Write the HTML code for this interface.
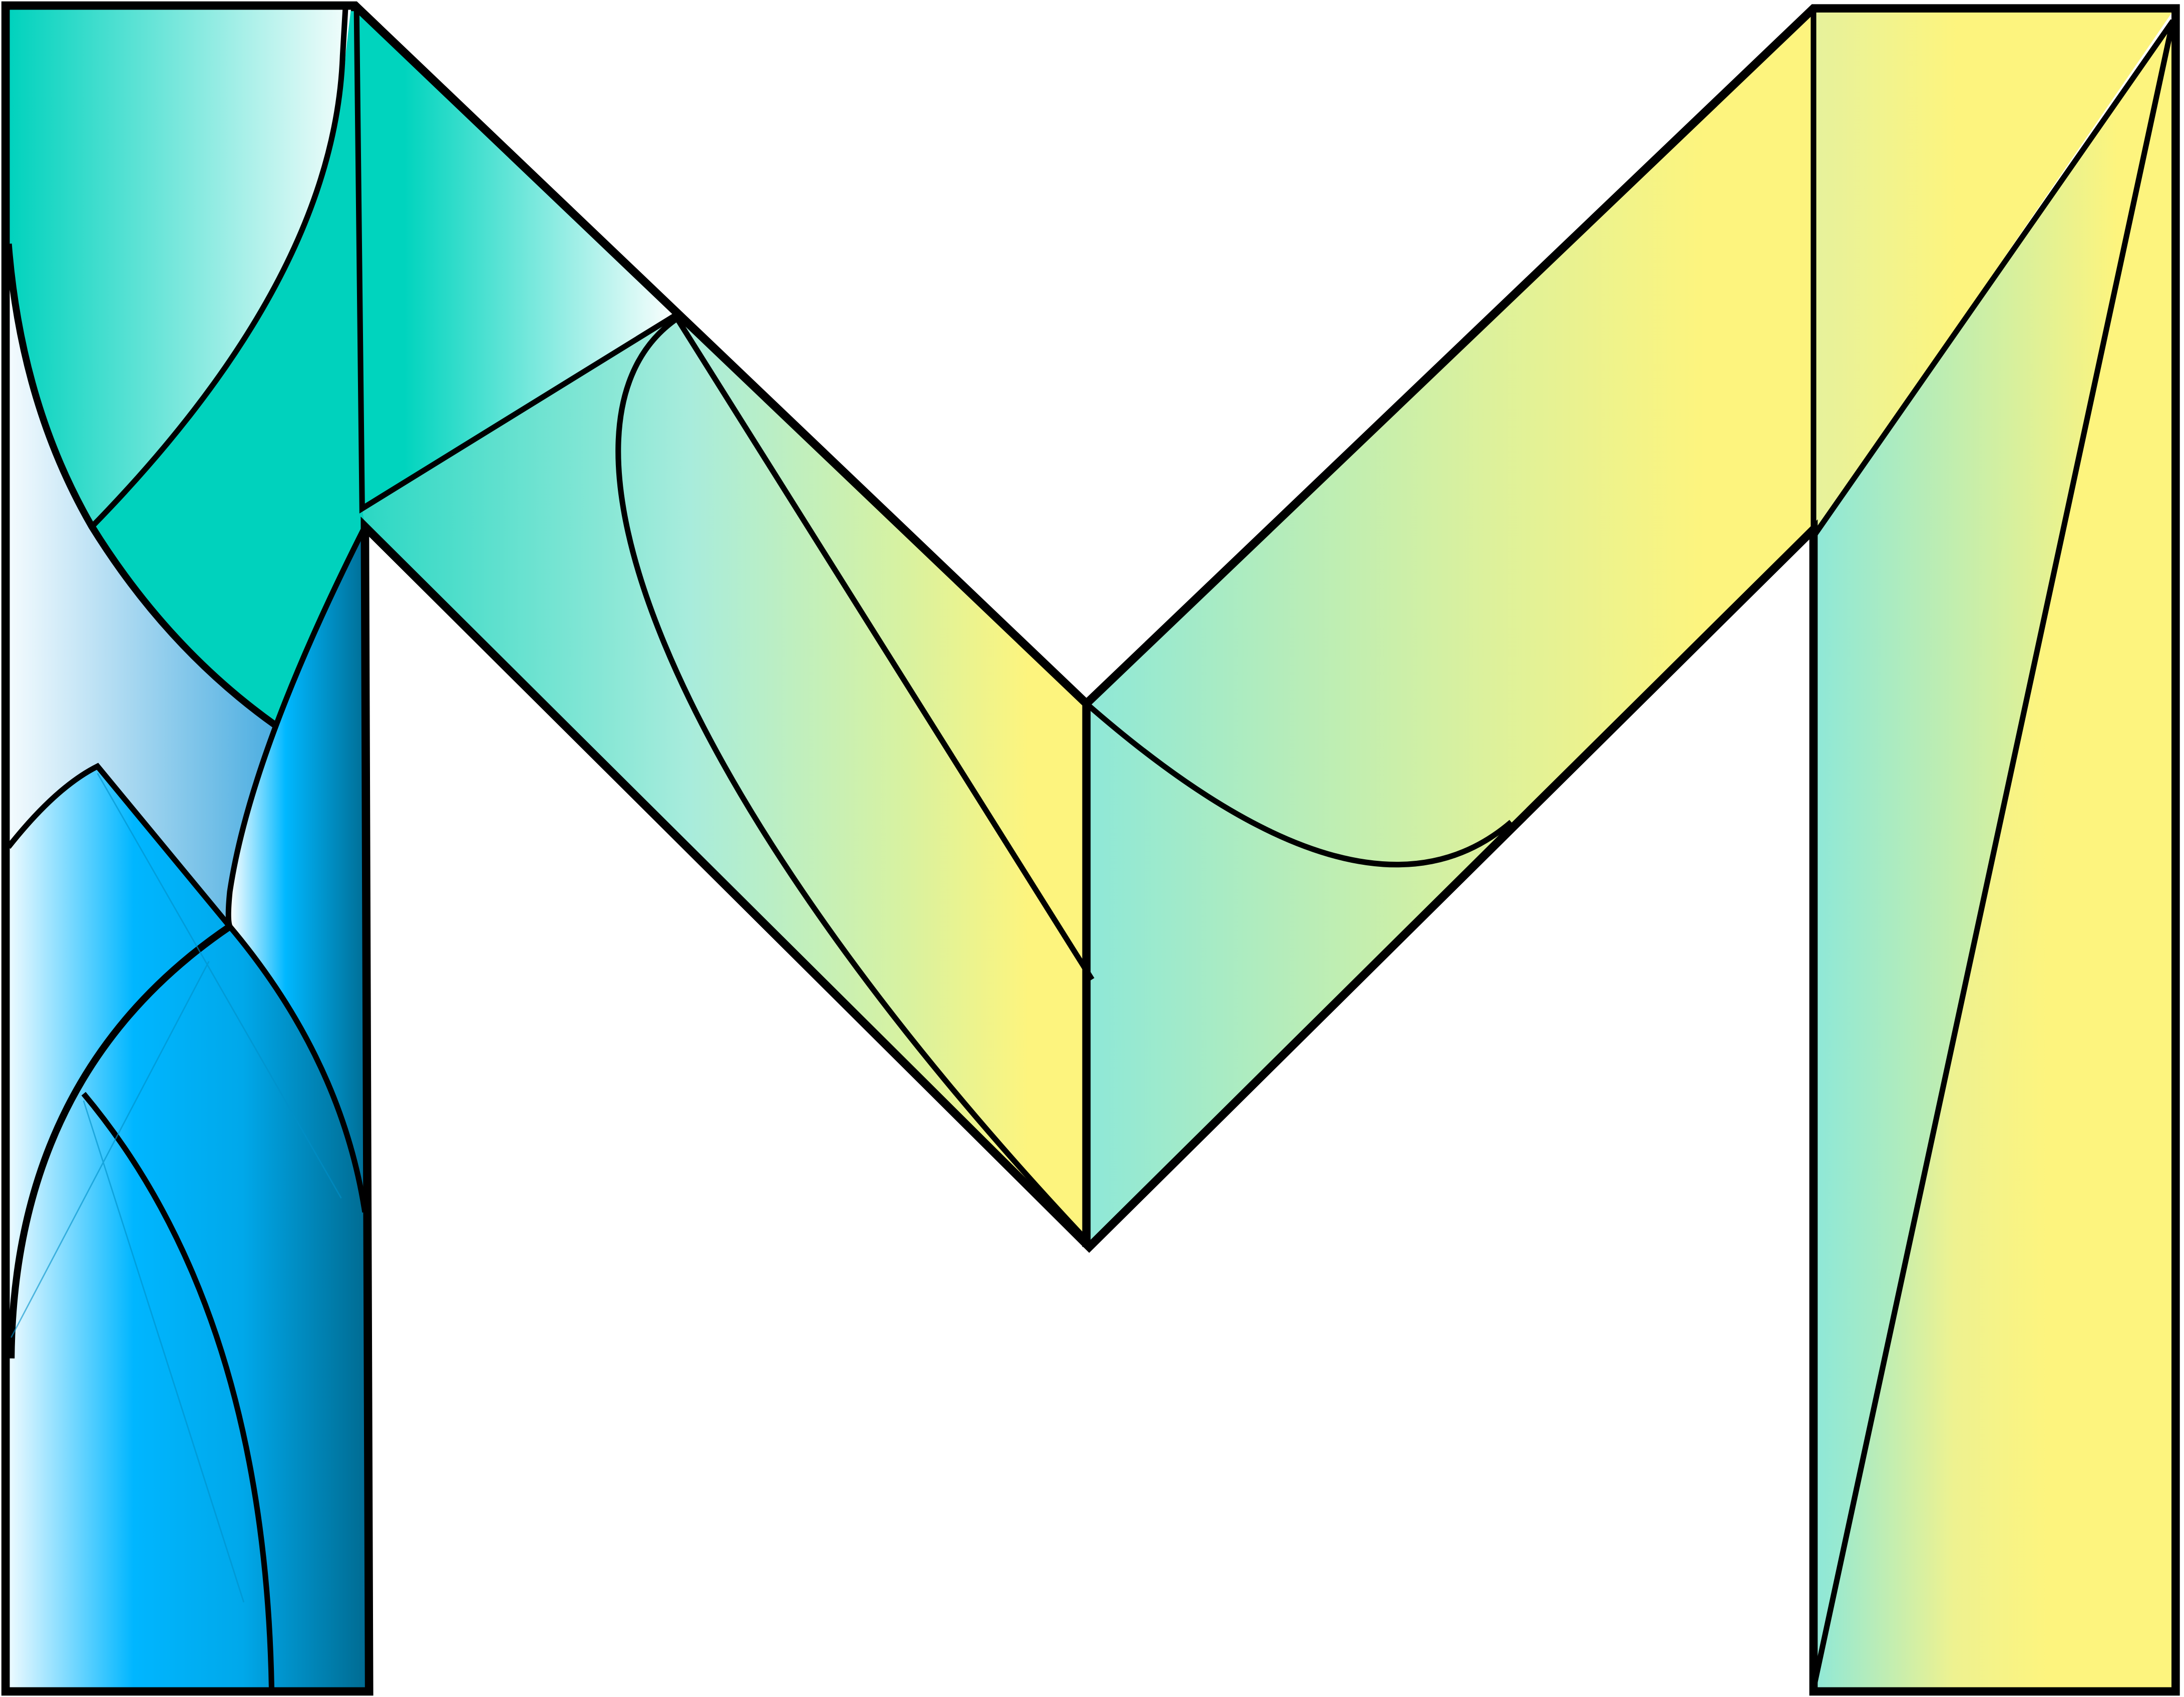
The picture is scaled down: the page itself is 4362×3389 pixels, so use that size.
<!DOCTYPE html>
<html><head><meta charset="utf-8"><style>
html,body{margin:0;padding:0;background:#fff;}
svg{display:block;}
</style></head><body>
<svg width="4362" height="3389" viewBox="0 0 1568 1218" preserveAspectRatio="none" xmlns="http://www.w3.org/2000/svg">
<defs>
<linearGradient id="gTL" x1="6" y1="0" x2="252" y2="0" gradientUnits="userSpaceOnUse"><stop offset="0" stop-color="#00d2bd"/><stop offset="1" stop-color="#f4fdfc"/></linearGradient>
<linearGradient id="gLB" x1="6" y1="0" x2="200" y2="0" gradientUnits="userSpaceOnUse"><stop offset="0" stop-color="#f4fbfe"/><stop offset="1" stop-color="#49ace0"/></linearGradient>
<linearGradient id="gBlueA" x1="5" y1="0" x2="265" y2="0" gradientUnits="userSpaceOnUse"><stop offset="0" stop-color="#f0fbff"/><stop offset="0.35" stop-color="#00b6ff"/><stop offset="0.65" stop-color="#00a8ea"/><stop offset="1" stop-color="#006a90"/></linearGradient>
<linearGradient id="gBlueB" x1="165" y1="0" x2="265" y2="0" gradientUnits="userSpaceOnUse"><stop offset="0" stop-color="#ffffff"/><stop offset="0.4" stop-color="#00b8ff"/><stop offset="1" stop-color="#006a90"/></linearGradient>
<linearGradient id="gTeal" x1="290" y1="0" x2="487" y2="0" gradientUnits="userSpaceOnUse"><stop offset="0" stop-color="#00d4be"/><stop offset="1" stop-color="#ffffff"/></linearGradient>
<linearGradient id="gMid" x1="262" y1="0" x2="780" y2="0" gradientUnits="userSpaceOnUse"><stop offset="0" stop-color="#2cd8c4"/><stop offset="0.45" stop-color="#a8ecdc"/><stop offset="0.75" stop-color="#d8f2a0"/><stop offset="0.92" stop-color="#fdf47e"/></linearGradient>
<linearGradient id="gRD" x1="780" y1="0" x2="1302" y2="0" gradientUnits="userSpaceOnUse"><stop offset="0" stop-color="#8ee8d8"/><stop offset="0.55" stop-color="#dcf19c"/><stop offset="0.85" stop-color="#fdf47e"/></linearGradient>
<linearGradient id="gRT" x1="1302" y1="0" x2="1560" y2="0" gradientUnits="userSpaceOnUse"><stop offset="0" stop-color="#e6f29c"/><stop offset="0.4" stop-color="#fdf47e"/></linearGradient>
<linearGradient id="gRL" x1="1302" y1="0" x2="1520" y2="0" gradientUnits="userSpaceOnUse"><stop offset="0" stop-color="#8ee8d8"/><stop offset="1" stop-color="#fdf47e"/></linearGradient>
<linearGradient id="gRR" x1="1302" y1="0" x2="1470" y2="0" gradientUnits="userSpaceOnUse"><stop offset="0" stop-color="#8ee8d8"/><stop offset="0.6" stop-color="#eef290"/><stop offset="1" stop-color="#fdf47e"/></linearGradient>
</defs>

<rect x="5" y="360" width="260" height="854" fill="url(#gBlueA)"/>
<path d="M262,378 Q180,540 165,640 Q163,660 165,665 Q245,760 262,870 Z" fill="url(#gBlueB)"/>
<path d="M6,6 L252,6 L248,40 Q240,200 66,378 Q10,290 6,175 Z" fill="url(#gTL)"/>
<path d="M252,6 L256,6 L260,365 L262,378 Q225,450 197,520 Q120,465 66,378 Q240,200 248,40 Z" fill="#00d2bd"/>
<path d="M6,175 Q15,290 66,378 Q120,465 197,520 Q165,600 165,665 L70,550 Q35,570 6,608 Z" fill="url(#gLB)"/>

<path d="M256,6 L487,225 L260,365 Z" fill="url(#gTeal)"/>
<path d="M260,365 L487,225 L780,505 L780,895 L262,378 Z" fill="url(#gMid)"/>
<path d="M780,505 L1302,8 L1302,378 L782,895 L782,505 Z" fill="url(#gRD)"/>
<path d="M1302,8 L1560,8 L1302,385 Z" fill="url(#gRT)"/>
<path d="M1302,385 L1560,15 L1302,1212 Z" fill="url(#gRL)"/>
<path d="M1560,15 L1562,1212 L1302,1212 Z" fill="url(#gRR)"/>

<g fill="none" stroke="#000" stroke-linejoin="miter">
<path stroke-width="6" d="M4,4 L255,4 L780,505 L1302,6 L1562,6 L1562,1214 L1302,1214 L1302,380 L782,895 L262,378 L265,1214 L4,1214 Z"/>
<g stroke-width="4">
<path d="M252,6 L256,6 L260,365 L487,225"/>
<path d="M248,6 L246,40 Q240,200 66,378"/>
<path d="M6,175 Q15,290 66,378 Q120,465 197,520" stroke-width="5"/>
<path d="M262,378 Q180,540 165,640 Q163,660 165,665 Q245,760 262,870"/>
<path d="M6,608 Q40,565 70,550 L165,665"/>
<path d="M165,665 Q10,770 8,975" stroke-width="5"/>
<path d="M60,785 Q190,940 195,1212"/>
<path d="M487,228 C380,300 470,560 780,890"/>
<path d="M487,230 L784,703"/>
<path d="M780,505 L780,895" stroke-width="6"/>
<path d="M780,505 Q980,680 1085,590"/>
<path d="M1302,8 L1302,385 L1560,15 L1302,1212"/>
</g>
<g stroke-width="1" stroke="#0090c8" opacity="0.6">
<path d="M70,555 L245,860"/>
<path d="M150,690 L8,960"/>
<path d="M60,790 L175,1150"/>
</g>
</g>
</svg>
</body></html>
